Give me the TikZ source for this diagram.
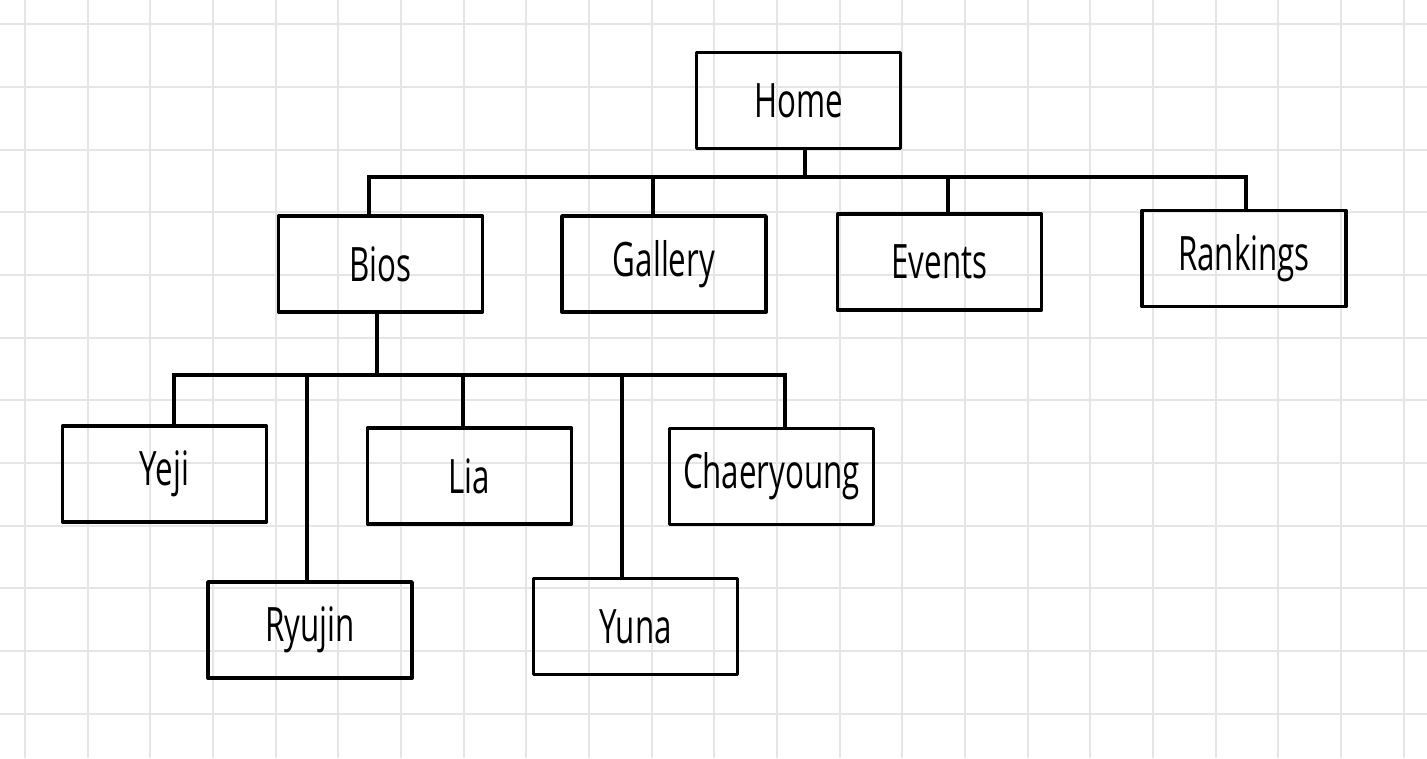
\documentclass[tikz,border=0pt]{standalone}
\usepackage{fontspec}
\setmainfont{Open Sans}[FakeStretch=0.66]
\usetikzlibrary{calc}

\begin{document}
\begin{tikzpicture}[
  x=0.02cm, y=-0.02cm,
  page/.style={line width=1.1pt, draw=black!10},
  box/.style={rectangle, draw, line width=2.2pt, line join=round, minimum width=4.08cm, minimum height=1.92cm, inner sep=0pt, font=\fontsize{27}{30}\selectfont},
  link/.style={line width=2.2pt, line join=miter},
]
\useasboundingbox (0,0) rectangle (1427,758);

% === GRID PAPER ===
\foreach \i in {0,...,22} \draw[page] ({25+62.67*\i},0) -- ({25+62.67*\i},758);
\foreach \j in {0,...,11} \draw[page] (0,{24.3+62.67*\j}) -- (1427,{24.3+62.67*\j});

% === PAGES ===
\node[box] (home) at (798.5, 100.5) {Home};

\node[box] (bios) at (380.5, 264) {Bios};
\node[box] (gallery) at (664, 264) {Gallery};
\node[box] (events) at (939.5, 262) {Events};
\node[box] (rankings) at (1244, 258.5) {Rankings};

\node[box] (yeji) at (164.5, 474) {Yeji};
\node[box] (ryujin) at (310, 630) {Ryujin};
\node[box] (lia) at (469.5, 476) {Lia};
\node[box] (yuna) at (635.5, 626.5) {Yuna};
\node[box] (chaeryoung) at (771.5, 476.5) {Chaeryoung};

% === MAIN MENU ===
\coordinate (homejoin) at (805, 177);
\coordinate (tobios) at (369, 177);
\coordinate (togallery) at (653, 177);
\coordinate (toevents) at (948, 177);
\coordinate (torankings) at (1246, 177);

\draw[link] (home.south -| homejoin) -- (homejoin);
\draw[link] (bios.north -| tobios) -- (tobios) -- (torankings) -- (rankings.north -| torankings);
\draw[link] (togallery) -- (gallery.north -| togallery);
\draw[link] (toevents) -- (events.north -| toevents);

% === BIOS SUBPAGES ===
\coordinate (biosjoin) at (377, 375);
\coordinate (toyeji) at (174, 375);
\coordinate (toryujin) at (307, 375);
\coordinate (tolia) at (463, 375);
\coordinate (toyuna) at (622, 375);
\coordinate (tochaeryoung) at (785, 375);

\draw[link] (bios.south -| biosjoin) -- (biosjoin);
\draw[link] (yeji.north -| toyeji) -- (toyeji) -- (tochaeryoung) -- (chaeryoung.north -| tochaeryoung);
\draw[link] (toryujin) -- (ryujin.north -| toryujin);
\draw[link] (tolia) -- (lia.north -| tolia);
\draw[link] (toyuna) -- (yuna.north -| toyuna);
\end{tikzpicture}
\end{document}
